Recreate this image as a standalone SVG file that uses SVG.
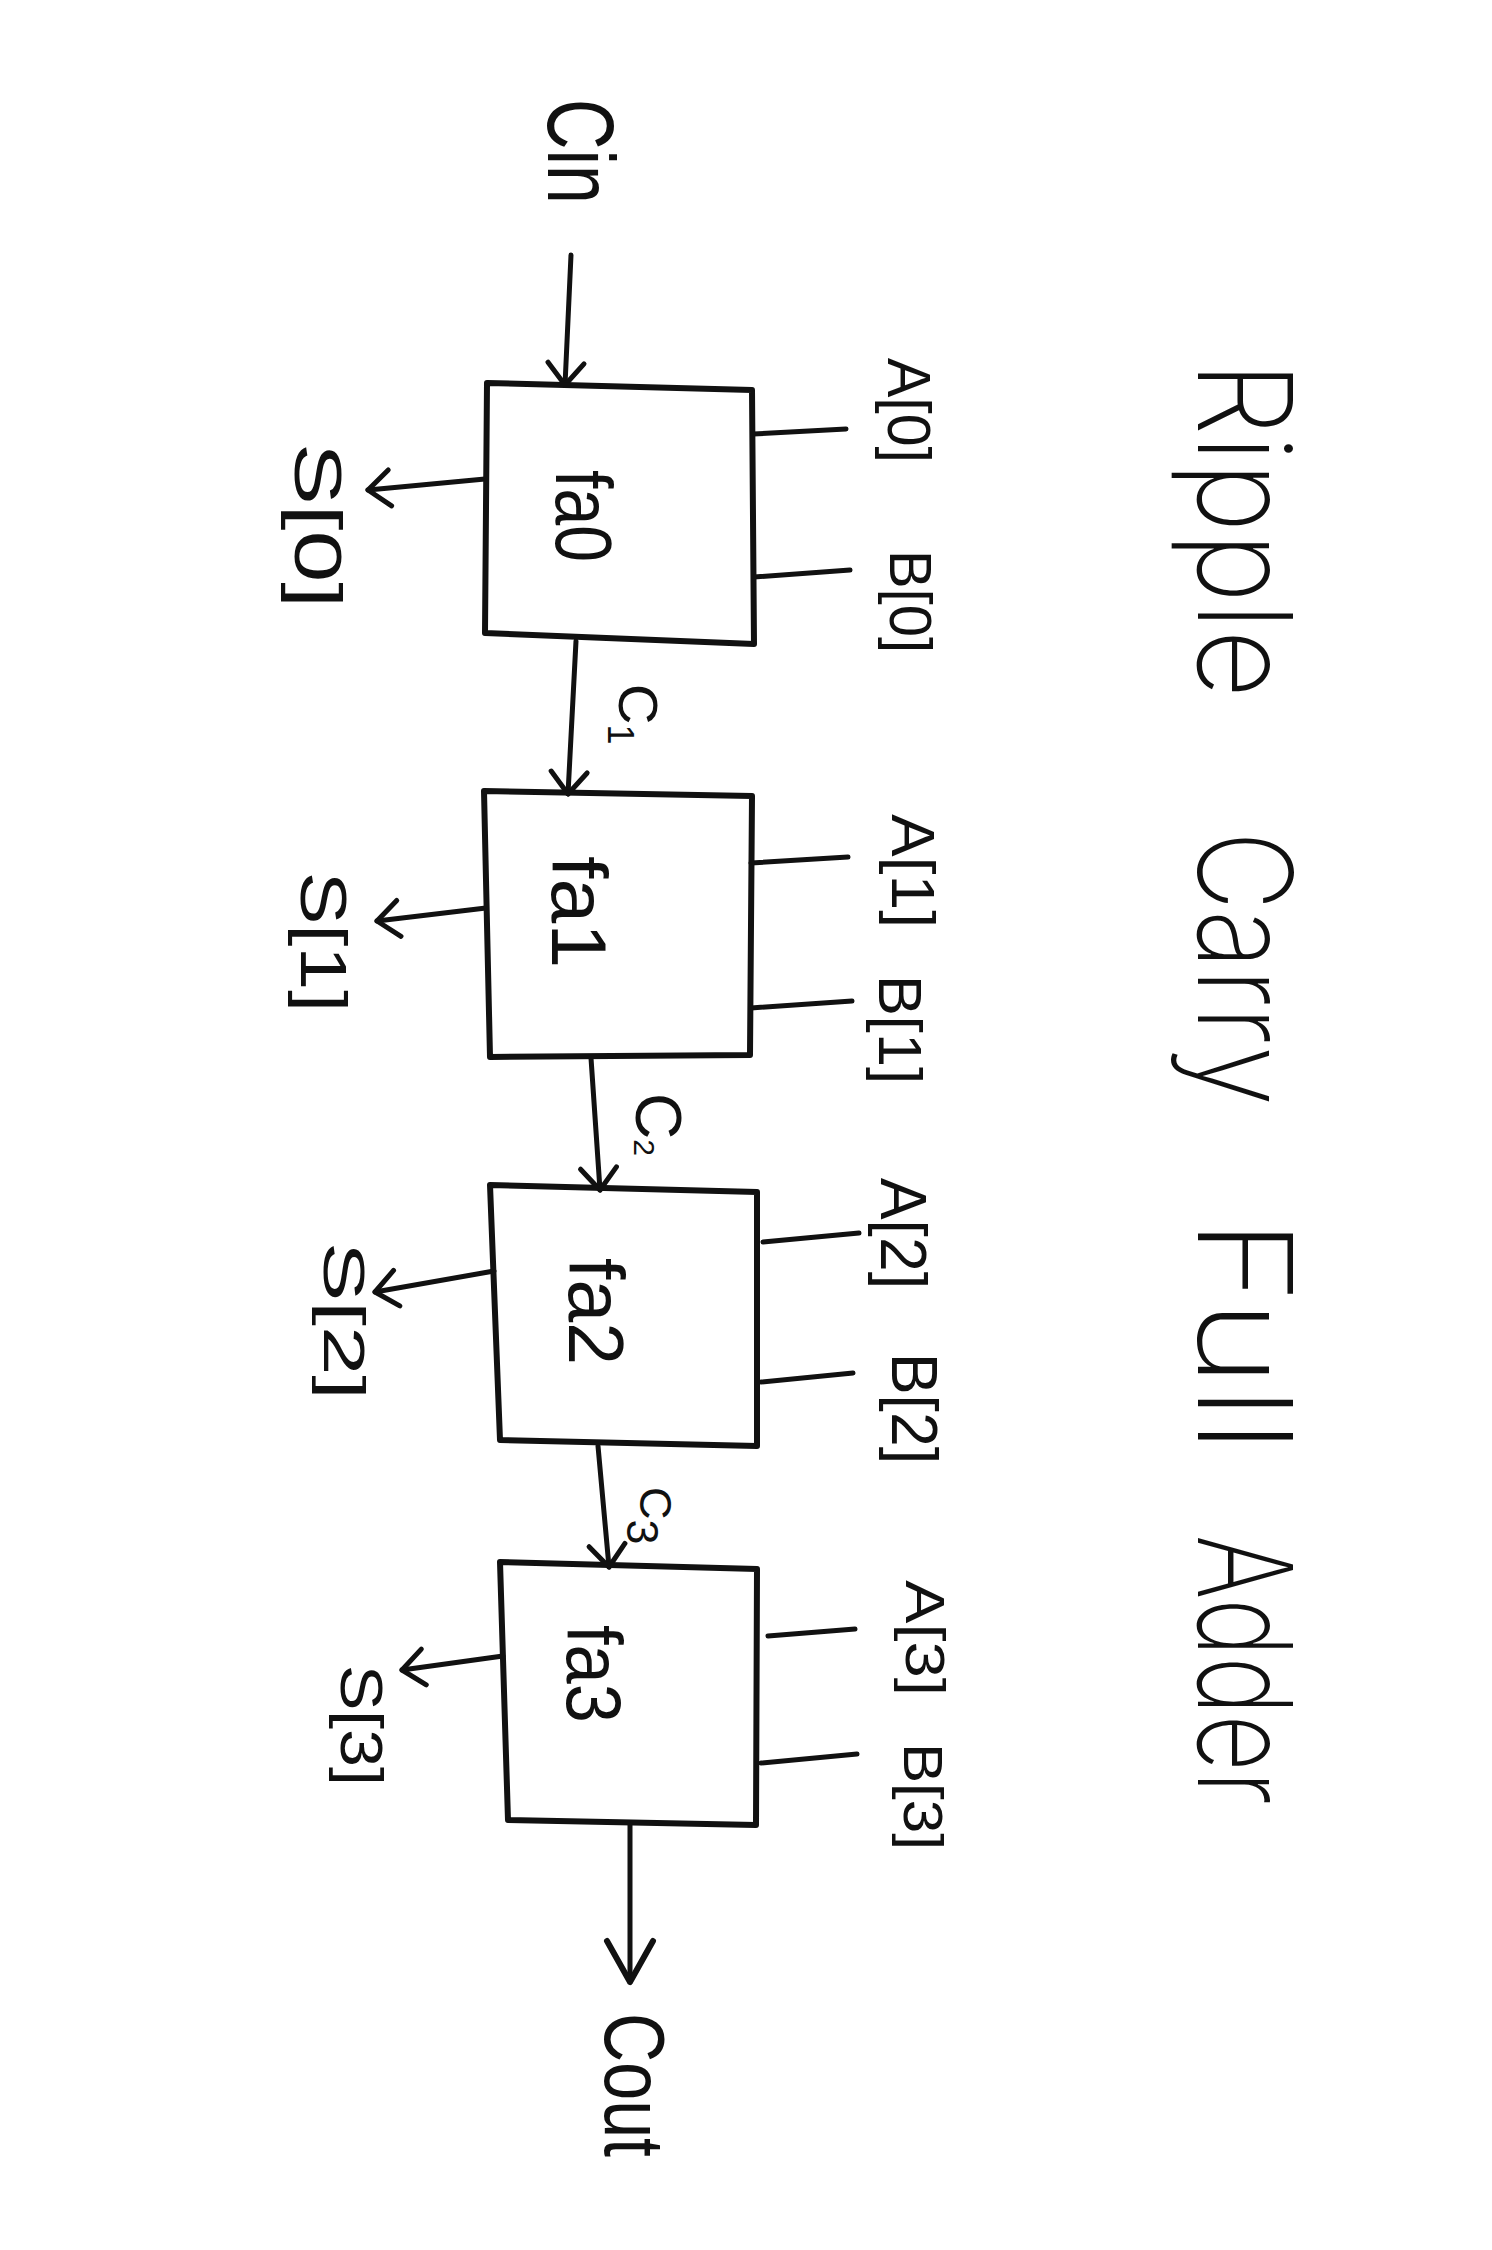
<svg xmlns="http://www.w3.org/2000/svg" width="1492" height="2250" viewBox="0 0 1492 2250">
<style>
.box{fill:none;stroke:#111;stroke-width:6;stroke-linejoin:round}
.wire{fill:none;stroke:#111;stroke-width:5;stroke-linecap:round}
.t{font-family:"Liberation Sans","DejaVu Sans",Arial,sans-serif;fill:#111}
.title{font-family:"Inter","Roboto","Open Sans","Liberation Sans",sans-serif;font-weight:200;fill:#111;font-size:130px}
</style>
<defs>
<marker id="arr" markerUnits="userSpaceOnUse" markerWidth="60" markerHeight="60" viewBox="-30 -30 60 60" refX="0" refY="0" orient="auto" overflow="visible">
<path d="M-22,-18 L0,0 L-22,18" fill="none" stroke="#111" stroke-width="5" stroke-linecap="round" stroke-linejoin="round"/>
</marker>
<marker id="arrBig" markerUnits="userSpaceOnUse" markerWidth="100" markerHeight="100" viewBox="-50 -50 100 100" refX="0" refY="0" orient="auto" overflow="visible">
<path d="M-41,-23 L0,0 L-41,23" fill="none" stroke="#111" stroke-width="6" stroke-linecap="round" stroke-linejoin="round"/>
</marker>
</defs>
<rect width="1492" height="2250" fill="#fff"/>

<g id="title">
<text class="title" transform="translate(1198,361) rotate(90)" textLength="337" lengthAdjust="spacingAndGlyphs">Ripple</text>
<text class="title" transform="translate(1198,831) rotate(90)" textLength="275" lengthAdjust="spacingAndGlyphs">Carry</text>
<text class="title" transform="translate(1198,1218) rotate(90)" textLength="235" lengthAdjust="spacingAndGlyphs">Full</text>
<text class="title" transform="translate(1198,1535) rotate(90)" textLength="270" lengthAdjust="spacingAndGlyphs">Adder</text>
</g>

<g id="connectors">
<line class="wire" x1="571" y1="255" x2="565" y2="385" marker-end="url(#arr)"/>
<line class="wire" x1="576" y1="641" x2="568" y2="794" marker-end="url(#arr)"/>
<line class="wire" x1="591" y1="1058" x2="600" y2="1190" marker-end="url(#arr)"/>
<line class="wire" x1="598" y1="1446" x2="609" y2="1567" marker-end="url(#arr)"/>
<line class="wire" x1="630" y1="1823" x2="630" y2="1982" marker-end="url(#arrBig)"/>
<line class="wire" x1="485" y1="479" x2="368" y2="490" marker-end="url(#arr)"/>
<line class="wire" x1="486" y1="908" x2="377" y2="921" marker-end="url(#arr)"/>
<line class="wire" x1="494" y1="1271" x2="375" y2="1292" marker-end="url(#arr)"/>
<line class="wire" x1="503" y1="1656" x2="402" y2="1670" marker-end="url(#arr)"/>
<line class="wire" x1="753" y1="434" x2="846" y2="429"/>
<line class="wire" x1="754" y1="577" x2="850" y2="570"/>
<line class="wire" x1="751" y1="863" x2="848" y2="857"/>
<line class="wire" x1="751" y1="1008" x2="852" y2="1001"/>
<line class="wire" x1="763" y1="1242" x2="859" y2="1233"/>
<line class="wire" x1="761" y1="1382" x2="853" y2="1373"/>
<line class="wire" x1="768" y1="1636" x2="855" y2="1629"/>
<line class="wire" x1="761" y1="1763" x2="857" y2="1754"/>
</g>

<g id="node-fa0">
<polygon class="box" points="487,383 752,390 754,644 485,633"/>
<text class="t" font-size="80" transform="translate(556,470) rotate(90)" textLength="92" lengthAdjust="spacingAndGlyphs">fa0</text>
</g>
<g id="node-fa1">
<polygon class="box" points="484,791 752,796 750,1055 490,1057"/>
<text class="t" font-size="78" transform="translate(552,856) rotate(90)" textLength="112" lengthAdjust="spacingAndGlyphs">fa1</text>
</g>
<g id="node-fa2">
<polygon class="box" points="490,1185 757,1192 757,1446 500,1440"/>
<text class="t" font-size="78" transform="translate(569,1258) rotate(90)" textLength="107" lengthAdjust="spacingAndGlyphs">fa2</text>
</g>
<g id="node-fa3">
<polygon class="box" points="500,1562 757,1569 756,1825 508,1820"/>
<text class="t" font-size="78" transform="translate(567,1625) rotate(90)" textLength="98" lengthAdjust="spacingAndGlyphs">fa3</text>
</g>

<g id="labels">
<text class="t" font-size="95" transform="translate(548,99) rotate(90)" textLength="105" lengthAdjust="spacingAndGlyphs">Cin</text>
<text class="t" font-size="85" transform="translate(605,2013) rotate(90)" textLength="144" lengthAdjust="spacingAndGlyphs">Cout</text>

<text class="t" font-size="62" transform="translate(888,358) rotate(90)" textLength="105" lengthAdjust="spacingAndGlyphs">A[0]</text>
<text class="t" font-size="60" transform="translate(890,550) rotate(90)" textLength="103" lengthAdjust="spacingAndGlyphs">B[0]</text>
<text class="t" font-size="62" transform="translate(892,814) rotate(90)" textLength="114" lengthAdjust="spacingAndGlyphs">A[1]</text>
<text class="t" font-size="62" transform="translate(879,975) rotate(90)" textLength="109" lengthAdjust="spacingAndGlyphs">B[1]</text>
<text class="t" font-size="64" transform="translate(881,1178) rotate(90)" textLength="111" lengthAdjust="spacingAndGlyphs">A[2]</text>
<text class="t" font-size="64" transform="translate(892,1353) rotate(90)" textLength="111" lengthAdjust="spacingAndGlyphs">B[2]</text>
<text class="t" font-size="56" transform="translate(906,1580) rotate(90)" textLength="116" lengthAdjust="spacingAndGlyphs">A[3]</text>
<text class="t" font-size="56" transform="translate(904,1743) rotate(90)" textLength="107" lengthAdjust="spacingAndGlyphs">B[3]</text>

<text class="t" font-size="66" transform="translate(295,443) rotate(90)" textLength="165" lengthAdjust="spacingAndGlyphs">S[0]</text>
<text class="t" font-size="64" transform="translate(301,872) rotate(90)" textLength="140" lengthAdjust="spacingAndGlyphs">S[1]</text>
<text class="t" font-size="58" transform="translate(324,1242) rotate(90)" textLength="158" lengthAdjust="spacingAndGlyphs">S[2]</text>
<text class="t" font-size="60" transform="translate(341,1665) rotate(90)" textLength="121" lengthAdjust="spacingAndGlyphs">S[3]</text>

<text class="t" font-size="56" transform="translate(619,684) rotate(90)">C<tspan font-size="36" dy="11">1</tspan></text>
<text class="t" font-size="64" transform="translate(636,1093) rotate(90)">C<tspan font-size="30" dy="2">2</tspan></text>
<text class="t" font-size="45" transform="translate(640,1487) rotate(90)">C<tspan dy="13">3</tspan></text>
</g>
</svg>
